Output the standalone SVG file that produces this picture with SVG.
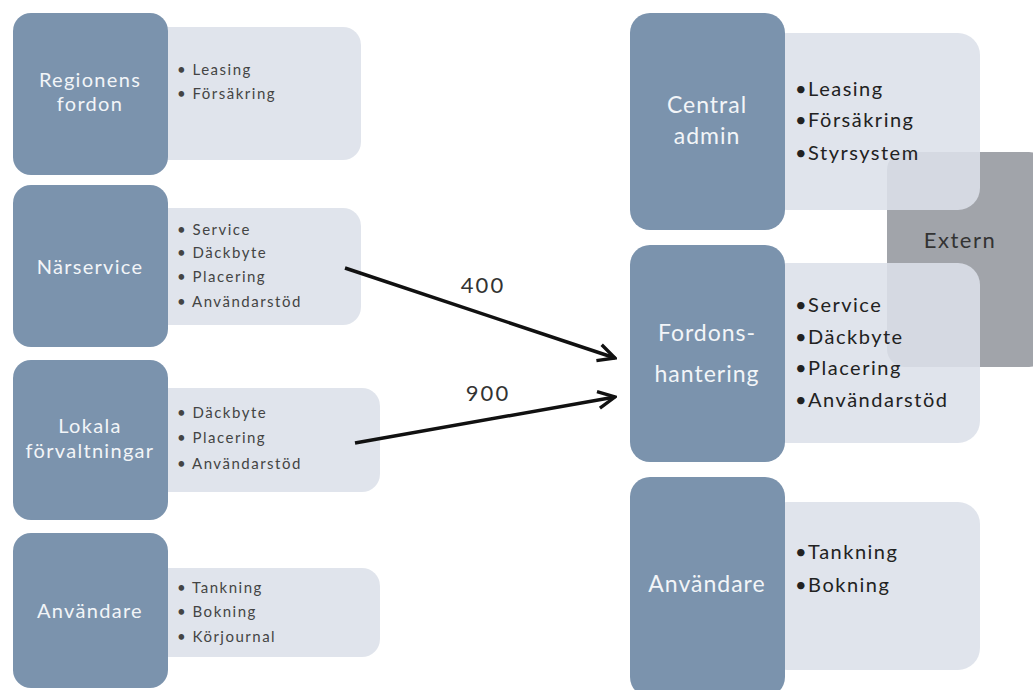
<svg xmlns="http://www.w3.org/2000/svg" width="1033" height="690" viewBox="0 0 1033 690">
<style>
.dark{fill:#7b93ad}
.light{fill:#dce0e9;opacity:0.88}
.ext{fill:#a1a4aa}
.lbl{font-family:Lato,"Open Sans",sans-serif;fill:#f2f5f8;text-anchor:middle}
.l{font-size:20px;letter-spacing:1.3px}
.r{font-size:23px;letter-spacing:1px}
.bs{font-family:Lato,"Open Sans",sans-serif;fill:#444;font-size:15px;letter-spacing:1.5px}
.bb{font-family:Lato,"Open Sans",sans-serif;fill:#222;font-size:20px;letter-spacing:1.5px}
.num{font-family:Lato,"Open Sans",sans-serif;fill:#333;font-size:22px;letter-spacing:2px;text-anchor:middle}
.conn{stroke:#111;stroke-width:3.5;fill:none}
</style>
<defs>
<marker id="ah" viewBox="0 0 10 10" refX="9" refY="5" markerWidth="6" markerHeight="6" markerUnits="strokeWidth" orient="auto">
<path d="M1,1 L9,5 L1,9" fill="none" stroke="#111" stroke-width="1.6"/>
</marker>
</defs>
<rect width="1033" height="690" fill="#fff"/>

<g id="extern">
<rect class="ext" x="887" y="152" width="160" height="215" rx="18"/>
<text x="960" y="248" style="font-family:Lato,'Open Sans',sans-serif;font-size:22px;letter-spacing:1.5px;fill:#333;text-anchor:middle">Extern</text>
</g>

<g id="regionens-fordon">
<rect class="light" x="150" y="27" width="211" height="133" rx="18"/>
<rect class="dark" x="13" y="13" width="155" height="162" rx="18"/>
<text class="lbl l" x="90" y="87">Regionens</text>
<text class="lbl l" x="90" y="111">fordon</text>
<text class="bs" x="177" y="75">• Leasing</text>
<text class="bs" x="177" y="99">• Försäkring</text>
</g>

<g id="narservice">
<rect class="light" x="150" y="208" width="211" height="117" rx="18"/>
<rect class="dark" x="13" y="185" width="155" height="162" rx="18"/>
<text class="lbl l" x="90" y="274">Närservice</text>
<text class="bs" x="177" y="235">• Service</text>
<text class="bs" x="177" y="258">• Däckbyte</text>
<text class="bs" x="177" y="282">• Placering</text>
<text class="bs" x="177" y="307">• Användarstöd</text>
</g>

<g id="lokala">
<rect class="light" x="150" y="388" width="230" height="104" rx="18"/>
<rect class="dark" x="13" y="360" width="155" height="160" rx="18"/>
<text class="lbl l" x="90" y="433">Lokala</text>
<text class="lbl l" x="90" y="458">förvaltningar</text>
<text class="bs" x="177" y="418">• Däckbyte</text>
<text class="bs" x="177" y="443">• Placering</text>
<text class="bs" x="177" y="469">• Användarstöd</text>
</g>

<g id="anvandare-left">
<rect class="light" x="150" y="568" width="230" height="89" rx="18"/>
<rect class="dark" x="13" y="533" width="155" height="155" rx="18"/>
<text class="lbl l" x="90" y="618">Användare</text>
<text class="bs" x="177" y="593">• Tankning</text>
<text class="bs" x="177" y="617">• Bokning</text>
<text class="bs" x="177" y="642">• Körjournal</text>
</g>

<g id="central-admin">
<rect class="light" x="765" y="33" width="215" height="177" rx="22"/>
<rect class="dark" x="630" y="13" width="155" height="217" rx="20"/>
<text class="lbl r" x="707" y="113">Central</text>
<text class="lbl r" x="707" y="144">admin</text>
<text class="bb" x="795" y="96">•Leasing</text>
<text class="bb" x="795" y="127">•Försäkring</text>
<text class="bb" x="795" y="160">•Styrsystem</text>
</g>

<g id="fordonshantering">
<rect class="light" x="765" y="263" width="215" height="180" rx="22"/>
<rect class="dark" x="630" y="245" width="155" height="217" rx="20"/>
<text class="lbl r" x="707" y="341">Fordons-</text>
<text class="lbl r" x="707" y="382">hantering</text>
<text class="bb" x="795" y="312">•Service</text>
<text class="bb" x="795" y="344">•Däckbyte</text>
<text class="bb" x="795" y="375">•Placering</text>
<text class="bb" x="795" y="407">•Användarstöd</text>
</g>

<g id="anvandare-right">
<rect class="light" x="765" y="502" width="215" height="168" rx="22"/>
<rect class="dark" x="630" y="477" width="155" height="220" rx="20"/>
<text class="lbl r" x="707" y="592">Användare</text>
<text class="bb" x="795" y="559">•Tankning</text>
<text class="bb" x="795" y="592">•Bokning</text>
</g>

<g id="connectors">
<line class="conn" x1="345" y1="268" x2="615" y2="358" marker-end="url(#ah)"/>
<line class="conn" x1="355" y1="443" x2="615" y2="397" marker-end="url(#ah)"/>
<text class="num" x="483" y="293">400</text>
<text class="num" x="488" y="401">900</text>
</g>
</svg>
